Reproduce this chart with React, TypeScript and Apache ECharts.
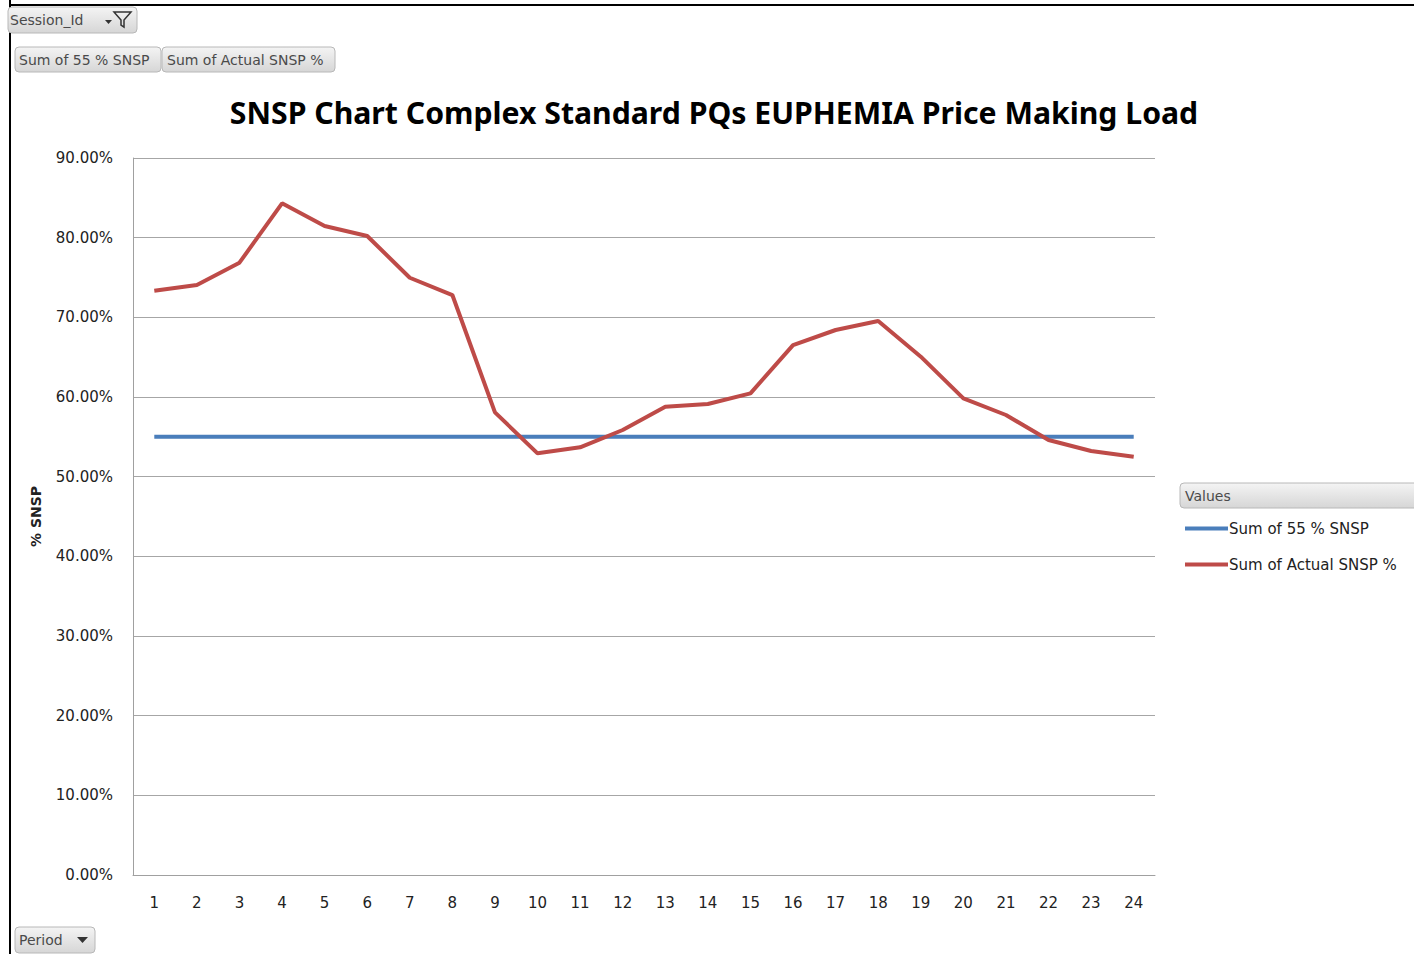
import React, { useEffect, useRef } from "react";
import * as echarts from "echarts";

const periods = ["1","2","3","4","5","6","7","8","9","10","11","12","13","14","15","16","17","18","19","20","21","22","23","24"];
const target55 = [0.55,0.55,0.55,0.55,0.55,0.55,0.55,0.55,0.55,0.55,0.55,0.55,0.55,0.55,0.55,0.55,0.55,0.55,0.55,0.55,0.55,0.55,0.55,0.55];
const actualSnsp = [0.7334,0.7406,0.7686,0.8431,0.8146,0.8021,0.7497,0.7280,0.5807,0.5293,0.5368,0.5586,0.5878,0.5912,0.6046,0.6652,0.6841,0.6954,0.6506,0.5983,0.5774,0.5460,0.5322,0.5250];
const seriesNames = ["Sum of 55 % SNSP", "Sum of Actual SNSP %"];
const titleText = "SNSP Chart Complex Standard PQs EUPHEMIA Price Making Load";

const btnFont = "Tahoma, 'DejaVu Sans', sans-serif";
const btnGrad = () =>
  new echarts.graphic.LinearGradient(0, 0, 0, 1, [
    { offset: 0, color: "#f4f4f4" },
    { offset: 1, color: "#d6d6d6" },
  ]);

function button(x: number, y: number, w: number, h: number, label: string, tx: number) {
  return [
    { type: "rect", shape: { x, y, width: w, height: h, r: 4 }, style: { fill: btnGrad(), stroke: "#b8b8b8", lineWidth: 1 }, z: 10 },
    { type: "text", x: tx, y: y + h / 2, style: { text: label, fill: "#4a4a4a", font: `14px ${btnFont}`, textVerticalAlign: "middle" }, z: 11 },
  ];
}

export default function App() {
  const ref = useRef<HTMLDivElement>(null);
  useEffect(() => {
    const chart = echarts.init(ref.current!, null, { renderer: "svg" });
    chart.setOption({
      animation: false,
      backgroundColor: "#ffffff",
      title: {
        text: titleText,
        left: 709,
        top: 92,
        textAlign: "center",
        textStyle: { fontFamily: "'Noto Sans', sans-serif", fontWeight: "bold", fontSize: 30.2, color: "#000" },
      },
      grid: { left: 133, right: 259, top: 158, bottom: 79, containLabel: false },
      legend: {
        orient: "vertical",
        left: 1185,
        top: 521,
        padding: 0,
        itemWidth: 43,
        itemHeight: 4,
        itemGap: 21,
        icon: "rect",
        textStyle: { fontFamily: "'DejaVu Sans', sans-serif", fontSize: 15, color: "#222", padding: [0, 0, 0, -4] },
        data: seriesNames,
      },
      xAxis: {
        type: "category",
        data: periods,
        boundaryGap: true,
        axisLine: { lineStyle: { color: "#a0a0a0", width: 1 } },
        axisTick: { show: false },
        axisLabel: { color: "#222", fontFamily: "'DejaVu Sans', sans-serif", fontSize: 15, margin: 20 },
      },
      yAxis: {
        type: "value",
        min: 0,
        max: 0.9,
        interval: 0.1,
        name: "% SNSP",
        nameLocation: "middle",
        nameGap: 90,
        nameTextStyle: { fontFamily: "'DejaVu Sans', sans-serif", fontWeight: "bold", fontSize: 14, color: "#222" },
        axisLine: { show: true, lineStyle: { color: "#a0a0a0", width: 1 } },
        axisTick: { show: false },
        splitLine: { lineStyle: { color: "#a6a6a6", width: 1 } },
        axisLabel: {
          color: "#222",
          fontFamily: "'DejaVu Sans', sans-serif",
          fontSize: 15,
          margin: 20,
          formatter: (v: number) => (v * 100).toFixed(2) + "%",
        },
      },
      series: [
        { name: seriesNames[0], type: "line", data: target55, symbol: "none", lineStyle: { color: "#4a7ebb", width: 4 }, itemStyle: { color: "#4a7ebb" } },
        { name: seriesNames[1], type: "line", data: actualSnsp, symbol: "none", lineStyle: { color: "#be4b48", width: 4 }, itemStyle: { color: "#be4b48" } },
      ],
      graphic: [
        // frame
        { type: "line", shape: { x1: 10, y1: 0, x2: 10, y2: 954 }, style: { stroke: "#000", lineWidth: 2 }, z: 5 },
        { type: "line", shape: { x1: 10, y1: 5, x2: 1414, y2: 5 }, style: { stroke: "#000", lineWidth: 2 }, z: 5 },
        ...button(8, 7, 129, 26, "Session_Id", 10),
        // dropdown arrow + funnel
        { type: "polygon", shape: { points: [[105, 20], [112, 20], [108.5, 24]] }, style: { fill: "#333" }, z: 12 },
        { type: "polygon", shape: { points: [[114, 12], [131, 12], [124, 20], [124, 27], [121, 25], [121, 20]] }, style: { fill: "none", stroke: "#333", lineWidth: 1.5 }, z: 12 },
        ...button(15, 47, 146, 25, "Sum of 55 % SNSP", 19),
        ...button(162, 47, 173, 25, "Sum of Actual SNSP %", 167),
        ...button(15, 927, 80, 26, "Period", 19),
        { type: "polygon", shape: { points: [[77, 937], [88, 937], [82.5, 943]] }, style: { fill: "#333" }, z: 12 },
        ...button(1180, 483, 240, 25, "Values", 1185),
      ],
    });
    return () => chart.dispose();
  }, []);
  return <div ref={ref} style={{ position: "absolute", left: 0, top: 0, width: 1414, height: 954 }} />;
}
